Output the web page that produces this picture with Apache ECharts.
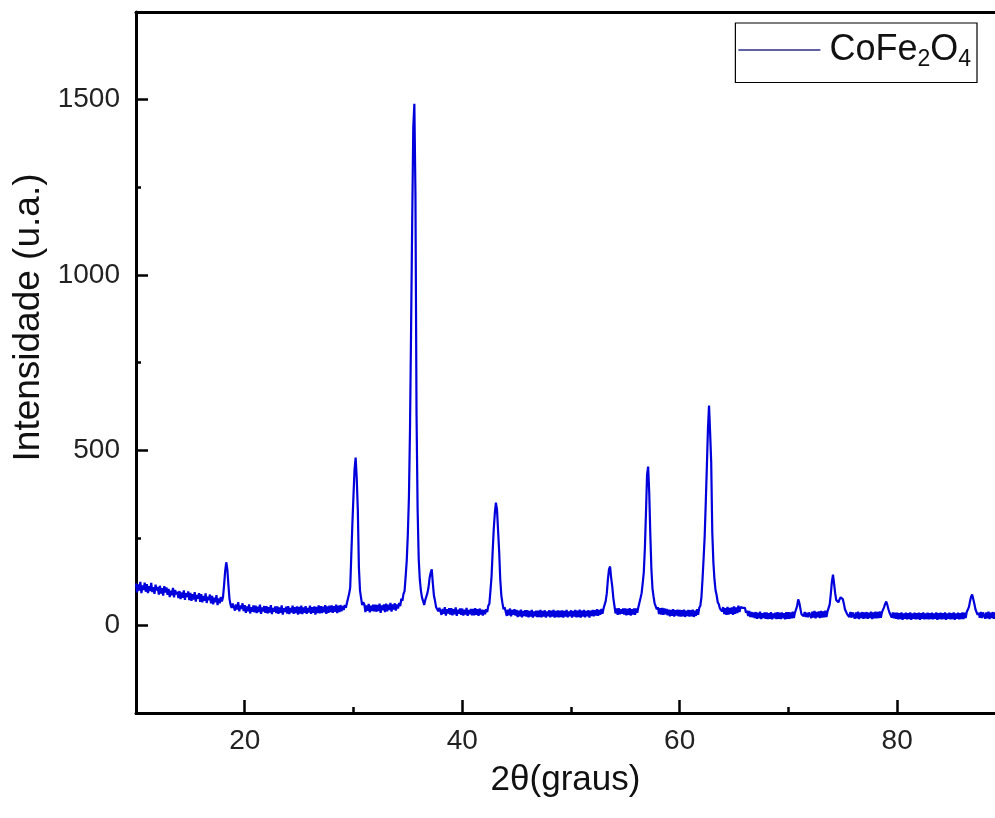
<!DOCTYPE html>
<html>
<head>
<meta charset="utf-8">
<script src="https://cdn.jsdelivr.net/npm/echarts@6/dist/echarts.min.js"></script>
<style>
html,body{margin:0;padding:0;background:#fff;}
#chart{width:995px;height:818px;}
</style>
</head>
<body>
<div id="chart"></div>
<script>
// 2θ scan: start, step (degrees)
const thetaStart = 10;
const thetaStep = 0.1;
// Intensity (u.a.), one row per degree (x.0 ... x.9)
const intensity = [
/*10*/120,94,117,99,124,92,114,101,122,96,
/*11*/118,92,112,98,121,95,109,90,116,100,
/*12*/110,88,113,91,106,85,112,94,108,87,
/*13*/104,81,99,86,107,80,101,89,96,78,
/*14*/98,75,94,79,100,73,92,81,97,72,
/*15*/93,70,89,74,95,68,87,76,92,67,
/*16*/89,66,84,70,91,64,82,72,88,63,
/*17*/84,60,79,66,86,58,77,63,81,68,
/*18*/80,115,155,180,160,115,75,58,50,62,
/*19*/64,42,60,45,66,40,57,47,63,41,
/*20*/58,36,54,40,60,34,52,39,57,37,
/*21*/56,35,53,38,59,33,51,40,55,36,
/*22*/55,34,52,37,58,32,50,39,54,35,
/*23*/54,33,51,36,57,31,49,38,53,34,
/*24*/55,32,50,37,56,33,52,35,54,31,
/*25*/53,34,56,32,51,36,55,33,50,37,
/*26*/56,33,52,36,54,31,53,35,57,34,
/*27*/55,35,53,37,58,33,54,36,56,38,
/*28*/57,36,55,39,59,35,56,38,58,40,
/*29*/55,44,58,50,64,66,90,108,200,290,
/*30*/370,445,479,420,330,165,100,78,58,66,
/*31*/60,38,57,42,61,37,56,41,59,40,
/*32*/59,39,58,41,62,36,57,43,60,38,
/*33*/62,40,59,44,64,39,60,45,63,42,
/*34*/60,48,64,55,76,70,90,98,140,185,
/*35*/260,365,560,850,1150,1420,1488,1230,600,330,
/*36*/190,131,100,80,70,58,72,72,92,108,
/*37*/135,150,160,120,85,70,52,54,40,50,
/*38*/50,30,47,33,52,28,46,34,49,31,
/*39*/49,29,46,32,51,27,45,33,48,30,
/*40*/48,28,45,31,50,27,44,32,47,29,
/*41*/47,29,49,30,46,27,48,31,45,28,
/*42*/44,32,46,38,56,62,100,140,210,274,
/*43*/320,350,330,270,210,131,85,64,46,52,
/*44*/47,27,45,29,48,26,44,30,46,28,
/*45*/44,24,42,26,45,23,41,27,43,25,
/*46*/43,23,41,25,44,22,40,26,42,24,
/*47*/42,24,44,23,41,25,43,22,40,26,
/*48*/43,23,42,25,44,22,41,24,43,23,
/*49*/42,24,43,22,41,25,44,23,40,26,
/*50*/43,22,41,25,44,23,42,24,45,22,
/*51*/42,25,44,23,41,26,43,22,42,27,
/*52*/44,26,43,28,46,27,44,30,47,33,
/*53*/48,44,70,92,131,160,168,135,111,78,
/*54*/56,34,48,30,49,32,46,33,48,31,
/*55*/48,29,47,30,49,28,46,31,48,30,
/*56*/48,36,52,56,78,92,120,151,220,320,
/*57*/430,453,380,260,160,105,82,62,58,46,
/*58*/52,32,49,31,50,30,48,32,47,29,
/*59*/45,26,44,27,46,25,43,28,45,26,
/*60*/44,25,43,26,45,24,42,27,44,25,
/*61*/43,26,45,24,42,27,46,30,50,56,
/*62*/80,131,190,254,350,453,560,627,550,465,
/*63*/265,180,131,100,86,66,60,48,52,40,
/*64*/52,32,49,30,53,31,50,33,51,30,
/*65*/54,33,51,35,56,38,52,55,50,52,
/*66*/50,36,42,27,41,24,38,23,37,21,
/*67*/38,19,36,20,39,18,35,21,37,19,
/*68*/37,18,35,19,38,17,34,20,36,18,
/*69*/38,19,36,18,37,20,35,17,38,19,
/*70*/38,19,37,20,39,21,36,40,55,74,
/*71*/65,48,32,34,26,38,24,36,23,37,
/*72*/40,21,39,22,41,20,38,23,40,21,
/*73*/41,22,40,23,42,24,40,45,60,90,
/*74*/125,145,120,92,72,73,66,74,80,83,
/*75*/75,62,46,42,32,36,24,38,22,37,
/*76*/38,19,37,20,39,18,36,21,38,19,
/*77*/37,20,38,19,36,21,39,18,37,20,
/*78*/39,20,38,21,40,22,37,40,52,62,
/*79*/68,58,46,36,34,22,37,20,36,19,
/*80*/36,17,35,18,37,16,34,19,36,17,
/*81*/35,18,37,16,34,19,36,17,35,18,
/*82*/36,16,35,19,37,17,34,18,36,17,
/*83*/35,18,36,17,34,19,37,16,35,18,
/*84*/36,17,35,18,37,16,34,19,36,17,
/*85*/35,18,37,16,34,19,36,17,35,18,
/*86*/37,18,36,21,38,40,52,68,82,88,
/*87*/75,62,46,42,30,36,22,38,21,37,
/*88*/38,19,37,20,39,18,36,21,38,19,
/*89*/37,20,38,19,36,21,39,18,37,20,
/*90*/28
];
const xMajorTicks = [20, 40, 60, 80];
const xMinorTicks = [30, 50, 70];
const yMajorTicks = [0, 500, 1000, 1500];
const yMinorTicks = [250, 750, 1250];

const seriesData = intensity.map((v, i) => [+(thetaStart + i * thetaStep).toFixed(2), v]);

const chart = echarts.init(document.getElementById('chart'), null, {renderer: 'canvas'});
const font = 'Liberation Sans, Arial, sans-serif';
const axisLine = {show: true, onZero: false, lineStyle: {color: '#000', width: 3}};
const plain = v => String(v);
const option = {
  backgroundColor: '#fff',
  animation: false,
  grid: {left: 136, top: 12, width: 859, height: 701, containLabel: false},
  legend: {
    top: 23, right: 18,
    borderColor: '#000', borderWidth: 1.2,
    padding: [9, 6, 11, 3],
    icon: 'rect',
    itemWidth: 82, itemHeight: 1.5, itemGap: 10,
    itemStyle: {color: '#2b2b88'},
    formatter: () => 'CoFe{sub|2}O{sub|4}',
    textStyle: {
      fontFamily: font, fontSize: 36, color: '#111', padding: [0, 0, 0, 4],
      rich: {sub: {fontFamily: font, fontSize: 23, color: '#111', padding: [20, 0, 0, 0]}}
    }
  },
  xAxis: [
    {
      type: 'value', min: 10, max: 89, interval: 10, position: 'bottom',
      axisLine: axisLine,
      axisTick: {show: true, inside: true, length: 13, customValues: xMajorTicks, lineStyle: {color: '#000', width: 2.5}},
      axisLabel: {show: true, customValues: xMajorTicks, formatter: plain, fontFamily: font, fontSize: 28, color: '#222', margin: 14},
      splitLine: {show: false},
      name: '2θ(graus)', nameLocation: 'middle', nameGap: 50,
      nameTextStyle: {fontFamily: font, fontSize: 35, color: '#111'}
    },
    {
      type: 'value', min: 10, max: 89, interval: 10, position: 'bottom',
      axisLine: {show: false, onZero: false},
      axisTick: {show: true, inside: true, length: 6, customValues: xMinorTicks, lineStyle: {color: '#000', width: 2.5}},
      axisLabel: {show: false}, splitLine: {show: false}
    },
    {
      type: 'value', min: 10, max: 89, position: 'top',
      axisLine: axisLine, axisTick: {show: false}, axisLabel: {show: false}, splitLine: {show: false}
    }
  ],
  yAxis: [
    {
      type: 'value', min: -250, max: 1750, interval: 250, position: 'left',
      axisLine: axisLine,
      axisTick: {show: true, inside: true, length: 12, customValues: yMajorTicks, lineStyle: {color: '#000', width: 2.5}},
      axisLabel: {show: true, customValues: yMajorTicks, formatter: plain, fontFamily: font, fontSize: 28, color: '#222', margin: 16},
      splitLine: {show: false},
      name: 'Intensidade (u.a.)', nameLocation: 'middle', nameGap: 82, nameRotate: 90,
      nameTextStyle: {fontFamily: font, fontSize: 37, color: '#111', padding: [0, 0, 0, 90]}
    },
    {
      type: 'value', min: -250, max: 1750, interval: 250, position: 'left',
      axisLine: {show: false, onZero: false},
      axisTick: {show: true, inside: true, length: 5, customValues: yMinorTicks, lineStyle: {color: '#000', width: 2.5}},
      axisLabel: {show: false}, splitLine: {show: false}
    }
  ],
  series: [{
    name: 'CoFe2O4', type: 'line', xAxisIndex: 0, yAxisIndex: 0,
    data: seriesData, symbol: 'none', showSymbol: false,
    lineStyle: {color: '#0000dd', width: 2.2},
    itemStyle: {color: '#0000dd'},
    clip: true
  }]
};
chart.setOption(option);
</script>
</body>
</html>
